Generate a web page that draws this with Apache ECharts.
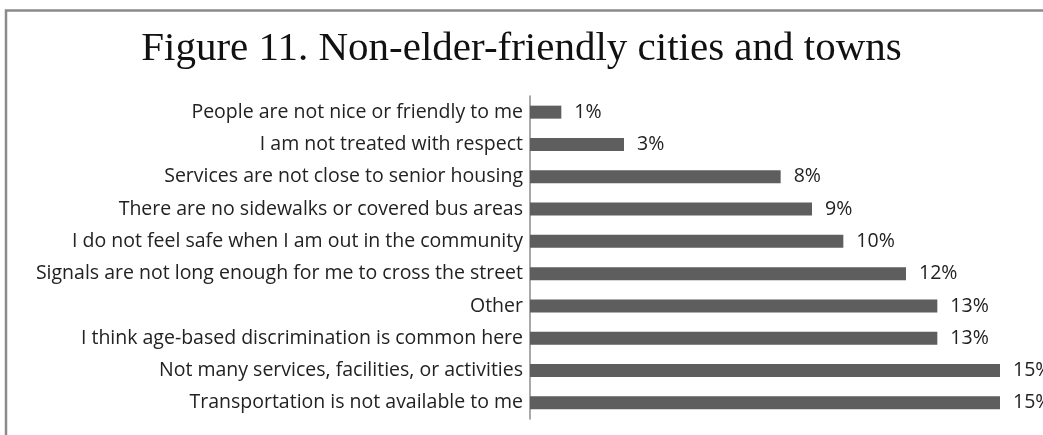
<!DOCTYPE html>
<html>
<head>
<meta charset="utf-8">
<script src="https://cdn.jsdelivr.net/npm/echarts@6/dist/echarts.min.js"></script>
<style>
  html, body { margin: 0; padding: 0; background: #fff; }
  #chart { width: 1043px; height: 435px; }
</style>
</head>
<body>
<div id="chart"></div>
<script>
// reasons, top to bottom
var reasons = [
  "People are not nice or friendly to me",
  "I am not treated with respect",
  "Services are not close to senior housing",
  "There are no sidewalks or covered bus areas",
  "I do not feel safe when I am out in the community",
  "Signals are not long enough for me to cross the street",
  "Other",
  "I think age-based discrimination is common here",
  "Not many services, facilities, or activities",
  "Transportation is not available to me"
];
var percents = [1, 3, 8, 9, 10, 12, 13, 13, 15, 15];

var chart = echarts.init(document.getElementById("chart"));
chart.setOption({
  animation: false,
  title: {
    text: "Figure 11. Non-elder-friendly cities and towns",
    left: "center",
    top: 24,
    textStyle: {
      fontFamily: "Liberation Serif",
      fontWeight: "normal",
      fontSize: 41,
      color: "#111"
    }
  },
  // frame around the chart (only top and left visible)
  graphic: [{
    type: "rect",
    shape: { x: 6, y: 10.5, width: 1100, height: 500 },
    style: { fill: "none", stroke: "#8a8a8a", lineWidth: 2.5 },
    silent: true
  }],
  grid: {
    left: 530,
    right: 43,
    top: 96,
    bottom: 16
  },
  xAxis: {
    type: "value",
    min: 0,
    max: 15,
    show: false
  },
  yAxis: {
    type: "category",
    data: reasons,
    inverse: true,
    axisLine: { show: true, lineStyle: { color: "#8c8c8c", width: 1.5 } },
    axisTick: { show: false },
    axisLabel: {
      margin: 7,
      fontFamily: "Open Sans",
      fontSize: 19.5,
      color: "#222"
    }
  },
  series: [{
    type: "bar",
    data: percents,
    barWidth: 13,
    itemStyle: { color: "#5e5e5e" },
    label: {
      show: true,
      position: "right",
      distance: 13,
      formatter: "{c}%",
      fontFamily: "Open Sans",
      fontSize: 19.5,
      color: "#222"
    }
  }]
});
</script>
</body>
</html>
